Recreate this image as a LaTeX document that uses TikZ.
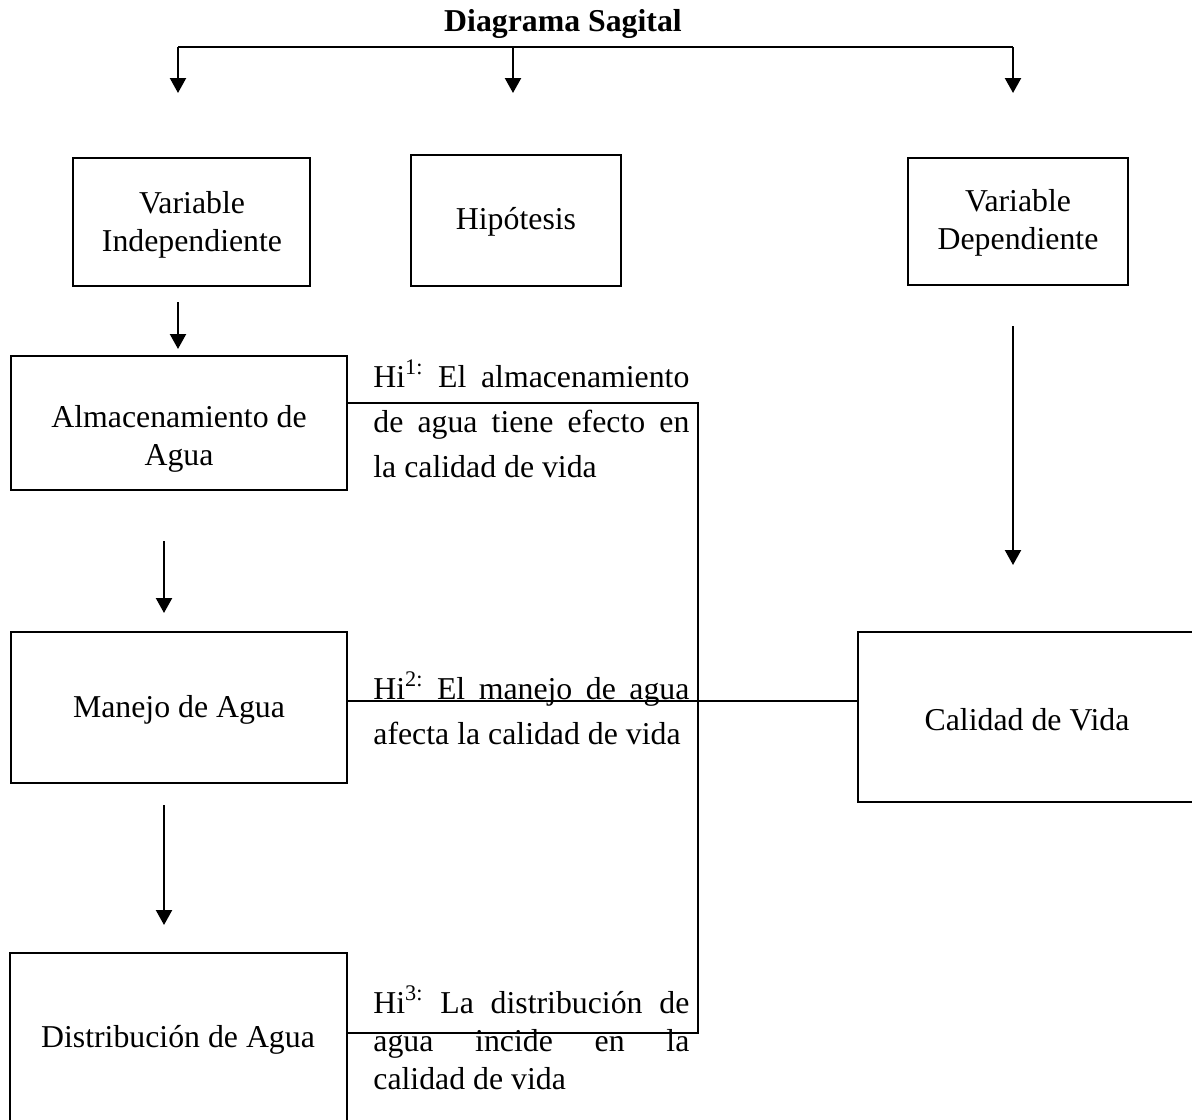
\documentclass[tikz,border=0pt]{standalone}
\usepackage{fontspec}
\setmainfont{Liberation Serif}
\usetikzlibrary{arrows.meta,fit}
\tikzset{
  frame/.style={draw, line width=1pt, inner sep=0pt, outer sep=0pt},
  caption/.style={inner sep=0pt, align=center, font=\fontsize{15.9pt}{19pt}\selectfont},
  flow/.style={line width=1.1pt, -{Triangle[length=7.5pt,width=8pt]}},
  bar/.style={line width=1.1pt},
  link/.style={line width=0.6pt},
  hyp/.style={inner sep=0pt, anchor=base west},
}
\newcommand{\hyptext}[2]{\parbox[t]{158pt}{\fontsize{15.9pt}{#1}\selectfont #2}}
\begin{document}
\begin{tikzpicture}[x=0.5pt,y=-0.5pt]
\useasboundingbox (0,0) rectangle (1192,1119);
\clip (0,0) rectangle (1192,1119);

% title and the distributing bar
\node[caption, font=\fontsize{15.9pt}{18pt}\selectfont\bfseries] (title) at (563,24) {Diagrama Sagital};
\coordinate (barL) at (178,47);
\coordinate (barM) at (513,47);
\coordinate (barR) at (1013,47);
\coordinate (tipL) at (178,93);
\coordinate (tipM) at (513,93);
\coordinate (tipR) at (1013,93);
\draw[bar] (barL) -- (barR);
\draw[flow] (barL) -- (tipL);
\draw[flow] (barM) -- (tipM);
\draw[flow] (barR) -- (tipR);

% header boxes
\node[frame, fit={(73,158) (310,286)}] (vi) {};
\node[caption] (viT) at (192,225) {Variable\\Independiente};
\node[frame, fit={(411,155) (621,286)}] (hip) {};
\node[caption] (hipT) at (516,222) {Hipótesis};
\node[frame, fit={(908,158) (1128,285)}] (vd) {};
\node[caption] (vdT) at (1018,223) {Variable\\Dependiente};

% independent variable column
\node[frame, fit={(11,356) (347,490)}] (alm) {};
\node[caption] (almT) at (179,439) {Almacenamiento de\\Agua};
\node[frame, fit={(11,632) (347,783)}] (man) {};
\node[caption] (manT) at (179,710) {Manejo de Agua};
\node[frame, fit={(10,953) (347,1135)}] (dis) {};
\node[caption] (disT) at (178,1040) {Distribución de Agua};

% dependent variable
\node[frame, fit={(858,632) (1210,802)}] (cal) {};
\node[caption] (calT) at (1027,720) {Calidad de Vida};

% vertical arrows
\coordinate (a1s) at (178,302); \coordinate (a1e) at (178,349);
\coordinate (a2s) at (164,541); \coordinate (a2e) at (164,613);
\coordinate (a3s) at (164,805); \coordinate (a3e) at (164,925);
\coordinate (a4s) at (1013,326); \coordinate (a4e) at (1013,565);
\draw[flow] (a1s) -- (a1e);
\draw[flow] (a2s) -- (a2e);
\draw[flow] (a3s) -- (a3e);
\draw[flow] (a4s) -- (a4e);

% hypothesis links
\coordinate (j1) at (698,403);
\coordinate (j3) at (698,1033);
\coordinate (j2) at (600,701);
\draw[link] (alm.east |- j1) -- (j1) -- (j3) -- (dis.east |- j3);
\draw[link] (man.east |- j2) -- (cal.west |- j2);

% hypothesis texts
\node[hyp] (h1) at (373,387) {\hyptext{22.5pt}{Hi\textsuperscript{1:} El almacenamiento\linebreak de agua tiene efecto en\linebreak la calidad de vida}};
\node[hyp] (h2) at (373,699) {\hyptext{22.5pt}{Hi\textsuperscript{2:} El manejo de agua\linebreak afecta la calidad de vida}};
\node[hyp] (h3) at (373,1013) {\hyptext{19pt}{Hi\textsuperscript{3:} La distribución de\linebreak agua incide en la\linebreak calidad de vida}};
\end{tikzpicture}
\end{document}
